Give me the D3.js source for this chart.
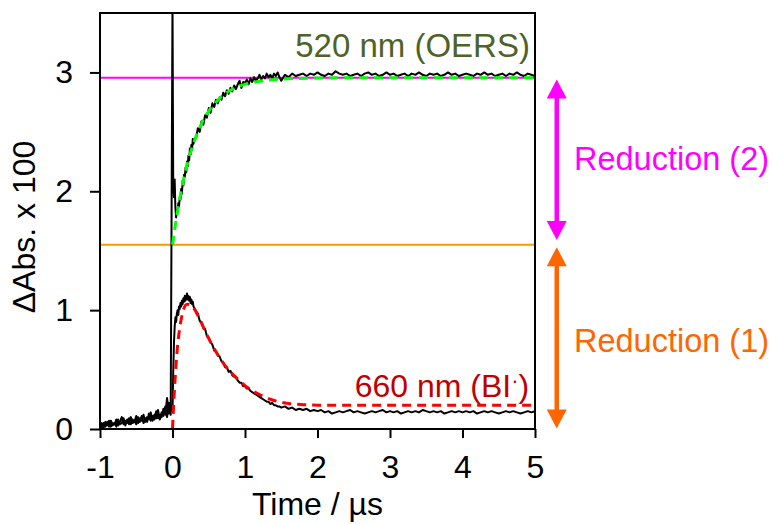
<!DOCTYPE html>
<html>
<head>
<meta charset="utf-8">
<script src="https://cdn.jsdelivr.net/npm/d3@7"></script>
<style>
    body { margin: 0; background: #fff; }
    svg text { font-family: "Liberation Sans", Arial, sans-serif; }
</style>
</head>
<body>
<div id="chart"></div>
<script>
// Sampling grid of the recorder (µs): [start, stop, step]
const gridSegments = [
    [-1, -0.025, 0.025],
    [0, 0.29, 0.01],
    [0.3, 1.475, 0.025],
    [1.5, 5, 0.05]
];

// 520 nm trace (ΔAbs x 100), one value per grid point
const trace520 = [
    // -1 .. -0.025
    0.02, 0.05, 0.01, 0.06, 0.03, 0.07, 0.02, 0.05, 0.04, 0.08,
    0.03, 0.06, 0.10, 0.04, 0.07, 0.05, 0.09, 0.04, 0.08, 0.06,
    0.11, 0.05, 0.09, 0.07, 0.12, 0.06, 0.10, 0.08, 0.14, 0.07,
    0.12, 0.09, 0.16, 0.08, 0.14, 0.11, 0.19, 0.10, 0.22, 0.12,
    // 0 .. 0.29
    3.60, 2.05, 1.95, 2.10, 1.86, 1.78, 1.84, 1.82, 1.90, 1.87,
    1.95, 1.93, 2.02, 1.98, 2.09, 2.05, 2.14, 2.12, 2.20, 2.16,
    2.25, 2.21, 2.30, 2.26, 2.36, 2.31, 2.39, 2.35, 2.44, 2.40,
    // 0.3 .. 1.475
    2.44, 2.45, 2.53, 2.50, 2.59, 2.56, 2.64, 2.62, 2.70, 2.66,
    2.74, 2.71, 2.77, 2.74, 2.79, 2.77, 2.83, 2.80, 2.85, 2.82,
    2.87, 2.84, 2.89, 2.86, 2.90, 2.93, 2.87, 2.92, 2.91, 2.94,
    2.90, 2.95, 2.92, 2.96, 2.93, 2.95, 2.98, 2.94, 2.97, 2.95,
    2.99, 2.96, 2.98, 2.95, 2.99, 2.97, 3.00, 2.96,
    // 1.5 .. 5
    2.93, 2.98, 2.96, 2.99, 2.97, 2.98, 2.99, 2.97, 2.99, 2.98,
    3.00, 2.98, 2.97, 2.99, 2.98, 3.01, 2.99, 2.98, 2.99, 2.97,
    2.98, 2.99, 2.97, 2.99, 3.00, 2.98, 2.99, 2.97, 2.98, 3.00,
    2.98, 2.99, 2.97, 2.98, 2.99, 2.97, 2.99, 2.98, 3.00, 2.98,
    2.97, 2.99, 2.98, 2.99, 2.97, 2.98, 3.00, 2.98, 2.99, 2.97,
    2.98, 2.99, 2.98, 2.97, 2.99, 2.98, 3.00, 2.98, 2.99, 2.97,
    2.98, 2.99, 2.97, 2.99, 2.98, 3.00, 2.98, 2.97, 2.99, 2.98,
    2.97
];

// 660 nm trace
const trace660 = [
    // -1 .. -0.025
    0.04, 0.01, 0.05, 0.02, 0.06, 0.02, 0.07, 0.03, 0.05, 0.02,
    0.08, 0.04, 0.05, 0.09, 0.03, 0.08, 0.04, 0.10, 0.05, 0.07,
    0.04, 0.10, 0.06, 0.11, 0.05, 0.09, 0.06, 0.13, 0.07, 0.11,
    0.08, 0.15, 0.09, 0.12, 0.10, 0.17, 0.12, 0.26, 0.13, 0.20,
    // 0 .. 0.29
    0.15, 0.48, 0.72, 0.86, 0.94, 0.90, 0.97, 1.00, 0.96, 1.03,
    1.01, 1.06, 1.03, 1.08, 1.05, 1.10, 1.07, 1.12, 1.08, 1.11,
    1.14, 1.09, 1.12, 1.08, 1.11, 1.06, 1.09, 1.05, 1.07, 1.03,
    // 0.3 .. 1.475
    1.02, 0.99, 0.97, 0.91, 0.90, 0.85, 0.84, 0.78, 0.77, 0.73,
    0.71, 0.66, 0.65, 0.62, 0.61, 0.57, 0.56, 0.52, 0.52, 0.48,
    0.49, 0.45, 0.44, 0.43, 0.41, 0.39, 0.39, 0.36, 0.36, 0.34,
    0.34, 0.32, 0.31, 0.30, 0.29, 0.28, 0.27, 0.26, 0.25, 0.24,
    0.23, 0.23, 0.21, 0.22, 0.20, 0.20, 0.19, 0.19,
    // 1.5 .. 5
    0.18, 0.19, 0.17, 0.18, 0.16, 0.17, 0.16, 0.17, 0.15, 0.16,
    0.15, 0.16, 0.14, 0.15, 0.13, 0.14, 0.15, 0.14, 0.15, 0.16,
    0.14, 0.15, 0.14, 0.13, 0.14, 0.15, 0.14, 0.15, 0.16, 0.14,
    0.15, 0.14, 0.15, 0.13, 0.14, 0.15, 0.14, 0.15, 0.14, 0.16,
    0.15, 0.14, 0.15, 0.14, 0.15, 0.13, 0.14, 0.15, 0.14, 0.15,
    0.14, 0.15, 0.14, 0.15, 0.13, 0.14, 0.15, 0.14, 0.15, 0.14,
    0.13, 0.14, 0.15, 0.14, 0.15, 0.14, 0.13, 0.14, 0.15, 0.14,
    0.15
];

// Fitted curves
const fitTimes520 = [0, 0.05, 0.1, 0.15, 0.2, 0.25, 0.3, 0.35, 0.4, 0.5, 0.6, 0.7, 0.8, 0.9, 1.0, 1.2, 1.4, 1.7, 2.0, 2.5, 3, 4, 5];
const fit520 = [1.55, 1.76, 1.94, 2.09, 2.22, 2.33, 2.42, 2.50, 2.57, 2.675, 2.75, 2.81, 2.85, 2.88, 2.90, 2.926, 2.94, 2.949, 2.953, 2.955, 2.955, 2.955, 2.955];

const fitTimes660 = [0, 0.025, 0.05, 0.075, 0.1, 0.15, 0.2, 0.25, 0.3, 0.4, 0.5, 0.6, 0.7, 0.8, 0.9, 1.0, 1.2, 1.4, 1.6, 1.8, 2.0, 2.5, 3, 4, 5];
const fit660 = [0, 0.31, 0.55, 0.73, 0.85, 1.00, 1.05, 1.045, 1.01, 0.89, 0.76, 0.65, 0.555, 0.48, 0.42, 0.365, 0.29, 0.24, 0.215, 0.205, 0.20, 0.20, 0.20, 0.20, 0.20];

// Levels
const levelOERS = 2.955;
const levelBI = 1.55;

const xTicks = [-1, 0, 1, 2, 3, 4, 5];
const yTicks = [0, 1, 2, 3];

const width = 772, height = 524;
const plot = { left: 100, right: 535, top: 13, bottom: 429 };

const times = gridSegments.flatMap(([a, b, s]) =>
    d3.range(a, b + s / 2, s).map(t => Math.round(t * 1000) / 1000));

const x = d3.scaleLinear().domain([-1, 5]).range([plot.left, plot.right]);
const y = d3.scaleLinear().domain([0, 3.5]).range([plot.bottom, plot.top]);

const svg = d3.select('#chart').append('svg')
    .attr('width', width)
    .attr('height', height);

svg.append('clipPath').attr('id', 'clip')
    .append('rect')
    .attr('x', plot.left).attr('y', plot.top)
    .attr('width', plot.right - plot.left)
    .attr('height', plot.bottom - plot.top);

const g = svg.append('g').attr('clip-path', 'url(#clip)');

// horizontal level lines
g.append('line')
    .attr('x1', x(-1)).attr('x2', x(5))
    .attr('y1', y(levelOERS)).attr('y2', y(levelOERS))
    .attr('stroke', '#ff00ff').attr('stroke-width', 2);
g.append('line')
    .attr('x1', x(-1)).attr('x2', x(5))
    .attr('y1', y(levelBI)).attr('y2', y(levelBI))
    .attr('stroke', '#ff9900').attr('stroke-width', 2);

const line = d3.line().x(d => x(d[0])).y(d => y(d[1]));
const smooth = d3.line().x(d => x(d[0])).y(d => y(d[1])).curve(d3.curveMonotoneX);

[trace660, trace520].forEach(vals => {
    g.append('path')
        .datum(times.map((t, i) => [t, vals[i]]))
        .attr('d', line)
        .attr('fill', 'none')
        .attr('stroke', '#000')
        .attr('stroke-width', 2)
        .attr('stroke-linejoin', 'round');
});

g.append('path')
    .datum(fitTimes660.map((t, i) => [t, fit660[i]]))
    .attr('d', smooth)
    .attr('fill', 'none')
    .attr('stroke', '#ff0000')
    .attr('stroke-width', 3)
    .attr('stroke-dasharray', '9,6');

g.append('path')
    .datum(fitTimes520.map((t, i) => [t, fit520[i]]))
    .attr('d', smooth)
    .attr('fill', 'none')
    .attr('stroke', '#00ff00')
    .attr('stroke-width', 3)
    .attr('stroke-dasharray', '9,6');

// frame
svg.append('rect')
    .attr('x', plot.left).attr('y', plot.top)
    .attr('width', plot.right - plot.left)
    .attr('height', plot.bottom - plot.top)
    .attr('fill', 'none')
    .attr('stroke', '#000')
    .attr('stroke-width', 2);

// axes
const xAxis = svg.append('g')
    .attr('transform', `translate(0,${plot.bottom})`)
    .call(d3.axisBottom(x).tickValues(xTicks).tickSize(9).tickPadding(17).tickFormat(d3.format('d')));
const yAxis = svg.append('g')
    .attr('transform', `translate(${plot.left},0)`)
    .call(d3.axisLeft(y).tickValues(yTicks).tickSize(10).tickPadding(17).tickFormat(d3.format('d')));

[xAxis, yAxis].forEach(ax => {
    ax.select('.domain').remove();
    ax.selectAll('line').attr('stroke-width', 2);
    ax.selectAll('text')
        .attr('font-size', 32)
        .attr('fill', '#000')
        .style('font-family', '"Liberation Sans", Arial, sans-serif');
});
xAxis.selectAll('text').text(d => d < 0 ? '-' + Math.abs(d) : d);

svg.append('text')
    .attr('x', (plot.left + plot.right) / 2)
    .attr('y', 515)
    .attr('text-anchor', 'middle')
    .attr('font-size', 32)
    .text('Time / µs');

svg.append('text')
    .attr('transform', `translate(35,${(plot.top + plot.bottom) / 2 + 6}) rotate(-90)`)
    .attr('text-anchor', 'middle')
    .attr('font-size', 32)
    .text('ΔAbs. x 100');

// trace labels
svg.append('text')
    .attr('x', x(4.93)).attr('y', y(3.13))
    .attr('text-anchor', 'end')
    .attr('font-size', 33)
    .attr('fill', '#4f6228')
    .text('520 nm (OERS)');

const biLabel = svg.append('text')
    .attr('x', x(4.92)).attr('y', y(0.27))
    .attr('text-anchor', 'end')
    .attr('font-size', 32)
    .attr('fill', '#c00000');
biLabel.append('tspan').text('660 nm (BI');
biLabel.append('tspan').attr('dy', -9).attr('font-size', 22).text('·');
biLabel.append('tspan').attr('dy', 9).text(')');

// double-headed arrows
function arrow(v1, v2, color) {
    const ax = x(5.3);
    const y1 = y(v1), y2 = y(v2);
    const head = 19, half = 10;
    svg.append('line')
        .attr('x1', ax).attr('x2', ax)
        .attr('y1', y1 + head - 1).attr('y2', y2 - head + 1)
        .attr('stroke', color).attr('stroke-width', 4.5);
    svg.append('path')
        .attr('d', `M${ax},${y1} L${ax + half},${y1 + head} L${ax - half},${y1 + head} Z`)
        .attr('fill', color);
    svg.append('path')
        .attr('d', `M${ax},${y2} L${ax + half},${y2 - head} L${ax - half},${y2 - head} Z`)
        .attr('fill', color);
}
arrow(2.94, 1.59, '#ff00ff');
arrow(1.53, 0.005, '#ff6600');

svg.append('text')
    .attr('x', 574).attr('y', y(2.18))
    .attr('font-size', 32.5)
    .attr('fill', '#ff00ff')
    .text('Reduction (2)');
svg.append('text')
    .attr('x', 574).attr('y', y(0.65))
    .attr('font-size', 32.5)
    .attr('fill', '#ff6600')
    .text('Reduction (1)');
</script>
</body>
</html>
